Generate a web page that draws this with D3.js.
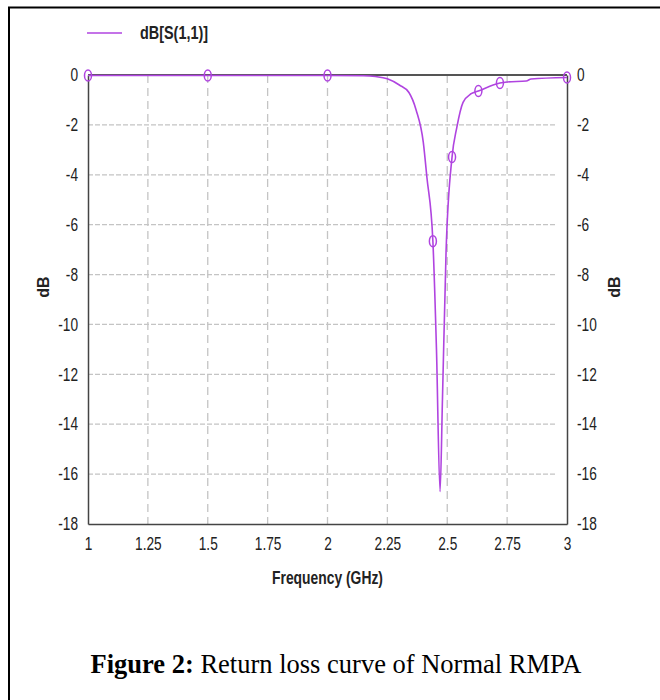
<!DOCTYPE html>
<html><head><meta charset="utf-8">
<script src="https://cdn.jsdelivr.net/npm/d3@7"></script>
<style>body{margin:0;background:#fff}svg{display:block}</style>
</head><body>
<svg id="c" width="660" height="700"></svg>
<script>
const freq = [1.0, 1.5, 2.0, 2.15, 2.2, 2.25, 2.3, 2.34, 2.37, 2.40, 2.415, 2.44, 2.455, 2.47, 2.48, 2.495, 2.52, 2.54, 2.566, 2.60, 2.63, 2.72, 2.75, 2.83, 2.85, 3.0];
const s11  = [-0.02, -0.02, -0.02, -0.03, -0.06, -0.15, -0.4, -0.7, -1.4, -2.7, -4.1, -6.66, -11.0, -16.7, -13.0, -7.1, -3.29, -2.1, -1.1, -0.75, -0.64, -0.32, -0.28, -0.24, -0.16, -0.1];
const markerFreq = [1.0, 1.5, 2.0, 2.44, 2.52, 2.63, 2.72, 3.0];
const markerVal  = [-0.02, -0.02, -0.02, -6.66, -3.29, -0.64, -0.32, -0.1];
const xTicks = [1, 1.25, 1.5, 1.75, 2, 2.25, 2.5, 2.75, 3];
const yTicks = [0, -2, -4, -6, -8, -10, -12, -14, -16, -18];
const seriesName = "dB[S(1,1)]";
const xTitle = "Frequency (GHz)";
const yTitle = "dB";

const svg = d3.select("#c");
const col = "#b044e0";
const font = "'Liberation Sans',Arial,sans-serif";
function narrow(sel, k){
  sel.each(function(){
    const len = this.getComputedTextLength();
    d3.select(this).attr("textLength", len*k).attr("lengthAdjust","spacingAndGlyphs");
  });
}

// outer frame
svg.append("line").attr("x1",8).attr("x2",660).attr("y1",7.5).attr("y2",7.5).attr("stroke","#000").attr("stroke-width",2);
svg.append("line").attr("x1",9).attr("x2",9).attr("y1",7).attr("y2",700).attr("stroke","#000").attr("stroke-width",2);

const L=88,R=567,T=75,B=524;
const x = d3.scaleLinear().domain([1,3]).range([L,R]);
const y = d3.scaleLinear().domain([-18,0]).range([B,T]);

// grid
const g = svg.append("g");
g.selectAll("line.v").data(xTicks.filter(t=>t>1&&t<3)).join("line")
  .attr("x1",d=>x(d)).attr("x2",d=>x(d)).attr("y1",T).attr("y2",B)
  .attr("stroke","#c4c4c4").attr("stroke-width",1.3).attr("stroke-dasharray","8,5");
g.selectAll("line.h").data(yTicks.filter(t=>t<0&&t>-18)).join("line")
  .attr("x1",L).attr("x2",R-10).attr("y1",d=>y(d)).attr("y2",d=>y(d))
  .attr("stroke","#c4c4c4").attr("stroke-width",1.3).attr("stroke-dasharray","5,2");

// axes
const fmtY = d=>String(d);
const axL = svg.append("g").attr("transform",`translate(${L},0)`).call(d3.axisLeft(y).tickValues(yTicks).tickSize(0).tickPadding(10).tickFormat(fmtY));
const axR = svg.append("g").attr("transform",`translate(${R},0)`).call(d3.axisRight(y).tickValues(yTicks).tickSize(0).tickPadding(10).tickFormat(fmtY));
const axB = svg.append("g").attr("transform",`translate(0,${B})`).call(d3.axisBottom(x).tickValues(xTicks).tickSize(0).tickPadding(13).tickFormat(d=>String(d)));
[axL,axR,axB].forEach(a=>{
  a.select(".domain").attr("stroke","#444").attr("stroke-width",1.5);
  a.selectAll("text").attr("font-family",font).attr("font-size",18).attr("fill","#222").call(narrow,0.76);
});
svg.append("line").attr("x1",L).attr("x2",R).attr("y1",T).attr("y2",T).attr("stroke","#555").attr("stroke-width",2);

// curve
const pts = freq.map((f,i)=>[f,s11[i]]);
svg.append("path").datum(pts)
  .attr("d", d3.line().x(d=>x(d[0])).y(d=>y(d[1])).curve(d3.curveMonotoneX))
  .attr("fill","none").attr("stroke",col).attr("stroke-width",1.6);
// markers
svg.selectAll("ellipse.m").data(markerFreq.map((f,i)=>[f,markerVal[i]])).join("ellipse")
  .attr("cx",d=>x(d[0])).attr("cy",d=>y(d[1])).attr("rx",3.5).attr("ry",5.5)
  .attr("fill","none").attr("stroke",col).attr("stroke-width",1.5);

// legend
svg.append("line").attr("x1",87).attr("x2",122).attr("y1",33).attr("y2",33).attr("stroke",col).attr("stroke-width",1.6);
svg.append("text").attr("x",140).attr("y",39).text(seriesName)
  .attr("font-family",font).attr("font-weight","bold").attr("font-size",18).attr("fill","#222").call(narrow,0.8);

// axis titles
svg.append("text").attr("x",(L+R)/2).attr("y",584).attr("text-anchor","middle").text(xTitle)
  .attr("font-family",font).attr("font-weight","bold").attr("font-size",18).attr("fill","#222").call(narrow,0.77);
svg.append("text").attr("transform","translate(49,287) rotate(-90)").attr("text-anchor","middle").text(yTitle)
  .attr("font-family",font).attr("font-weight","bold").attr("font-size",16).attr("fill","#222");
svg.append("text").attr("transform","translate(620,287) rotate(-90)").attr("text-anchor","middle").text(yTitle)
  .attr("font-family",font).attr("font-weight","bold").attr("font-size",16).attr("fill","#222");

// caption
const cap = svg.append("text").attr("x",336).attr("y",673).attr("text-anchor","middle")
  .attr("font-family","'Liberation Serif','Times New Roman',serif").attr("font-size",26.5).attr("fill","#000");
cap.append("tspan").attr("font-weight","bold").text("Figure 2:");
cap.append("tspan").text(" Return loss curve of Normal RMPA");
</script>
</body></html>
